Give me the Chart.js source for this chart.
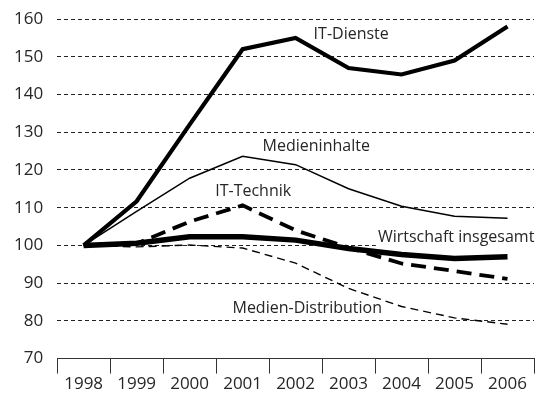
<!DOCTYPE html>
<html>
<head>
<meta charset="utf-8">
<script src="https://cdn.jsdelivr.net/npm/chart.js@4"></script>
<style>
  html, body { margin: 0; padding: 0; background: #fff; }
  #wrap { width: 536px; height: 409px; }
</style>
</head>
<body>
<div id="wrap"><canvas id="chart" width="536" height="409"></canvas></div>
<script>
// Index 1998 = 100
const years = ['1998', '1999', '2000', '2001', '2002', '2003', '2004', '2005', '2006'];

const itDienste = [100, 111.7, 132, 152, 155, 147, 145.3, 149, 158];
const medienInhalte = [100, 109, 117.8, 123.6, 121.4, 115, 110.4, 107.7, 107.2];
const itTechnik = [100, 100.5, 106.3, 110.6, 104, 99.4, 95.2, 93.2, 91.1];
const wirtschaft = [100, 100.6, 102.3, 102.3, 101.4, 99.2, 97.6, 96.5, 97];
const medienDistribution = [100, 99.6, 100.1, 99.3, 95.3, 88.6, 83.8, 80.8, 79.1];

const yTicks = [70, 80, 90, 100, 110, 120, 130, 140, 150, 160];

// series labels: text, x (category index), y (value), white box behind
const seriesLabels = [
    { text: 'IT-Dienste', x: 5.05, y: 156, box: false },
    { text: 'Medieninhalte', x: 4.39, y: 126.1, box: false },
    { text: 'IT-Technik', x: 3.2, y: 114.4, box: false },
    { text: 'Wirtschaft insgesamt', x: 7.03, y: 102.1, box: true },
    { text: 'Medien-Distribution', x: 4.22, y: 83.2, box: false }
];

const textColor = '#262626';
const fontFamily = '"Open Sans", sans-serif';

// draws the series names inside the plot
const lineLabels = {
    id: 'lineLabels',
    afterDatasetsDraw(chart) {
        const ctx = chart.ctx;
        const xs = chart.scales.x;
        const ys = chart.scales.y;
        ctx.save();
        ctx.font = '16px ' + fontFamily;
        ctx.textAlign = 'center';
        ctx.textBaseline = 'middle';
        seriesLabels.forEach(l => {
            const px = xs.getPixelForValue(l.x);
            const py = ys.getPixelForValue(l.y);
            if (l.box) {
                const w = ctx.measureText(l.text).width;
                ctx.fillStyle = '#fff';
                ctx.fillRect(px - w / 2 - 2, py - 9, w + 4, 18);
            }
            ctx.fillStyle = textColor;
            ctx.fillText(l.text, px, py);
        });
        ctx.restore();
    }
};

new Chart(document.getElementById('chart'), {
    type: 'line',
    data: {
        labels: years,
        datasets: [
            {
                label: 'Medien-Distribution',
                data: medienDistribution,
                borderColor: '#000',
                borderWidth: 1.4,
                borderDash: [8, 5]
            },
            {
                label: 'Medieninhalte',
                data: medienInhalte,
                borderColor: '#000',
                borderWidth: 1.5
            },
            {
                label: 'IT-Technik',
                data: itTechnik,
                borderColor: '#000',
                borderWidth: 3.8,
                borderDash: [15, 8]
            },
            {
                label: 'Wirtschaft insgesamt',
                data: wirtschaft,
                borderColor: '#000',
                borderWidth: 5.5
            },
            {
                label: 'IT-Dienste',
                data: itDienste,
                borderColor: '#000',
                borderWidth: 4.2
            }
        ]
    },
    options: {
        responsive: false,
        animation: false,
        elements: {
            point: { radius: 0 },
            line: { tension: 0, borderJoinStyle: 'miter', fill: false }
        },
        layout: { padding: { top: 19, right: 2, left: 0, bottom: 15 } },
        plugins: {
            legend: { display: false },
            tooltip: { enabled: false }
        },
        scales: {
            x: {
                offset: true,
                grid: {
                    offset: true,
                    drawOnChartArea: false,
                    drawTicks: true,
                    tickLength: 15,
                    color: '#333',
                    lineWidth: 1
                },
                border: { display: true, color: '#333', width: 1 },
                ticks: {
                    color: textColor,
                    font: { family: fontFamily, size: 17 },
                    padding: 0,
                    maxRotation: 0
                }
            },
            y: {
                min: 70,
                max: 160,
                afterBuildTicks(axis) {
                    axis.ticks = yTicks.map(v => ({ value: v }));
                },
                // let the layout padding decide where the top gridline sits
                afterFit(axis) {
                    axis.paddingTop = 0;
                    axis.paddingBottom = 0;
                },
                grid: {
                    drawTicks: false,
                    color: ctx => ctx.tick && ctx.tick.value === 70 ? 'rgba(0,0,0,0)' : '#222',
                    lineWidth: 1
                },
                border: { display: false, dash: [4, 3] },
                ticks: {
                    color: textColor,
                    font: { family: fontFamily, size: 17 },
                    padding: 14
                }
            }
        }
    },
    plugins: [lineLabels]
});
</script>
</body>
</html>
